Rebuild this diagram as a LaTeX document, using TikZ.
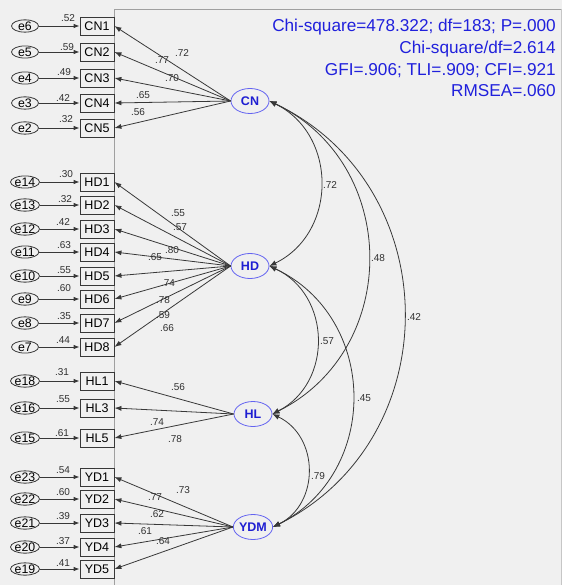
\documentclass[tikz,border=0pt]{standalone}
\usepackage{fontspec}
\setmainfont{Liberation Sans}
\usetikzlibrary{arrows.meta,shapes.geometric}
\definecolor{bg}{HTML}{F0F0F0}
\definecolor{framecol}{HTML}{A0A0A0}
\definecolor{ln}{HTML}{383838}
\definecolor{fitblue}{HTML}{2020DC}
\definecolor{latblue}{HTML}{6464F0}
\definecolor{lattext}{HTML}{1E1ED2}
\begin{document}
\begin{tikzpicture}[x=1pt,y=-1pt,
 obs/.style={draw=ln,fill=bg,line width=0.8pt,minimum width=34pt,minimum height=18pt,inner sep=0pt,font=\fontsize{12.5}{13}\selectfont},
 err/.style={ellipse,draw=ln,line width=0.8pt,minimum width=27pt,minimum height=12pt,inner sep=0pt,font=\fontsize{12.3}{12}\selectfont},
 lat/.style={ellipse,draw=latblue,fill=bg,line width=0.8pt,minimum width=38pt,minimum height=25pt,inner sep=0pt,text=lattext,font=\fontsize{12.5}{13}\selectfont\bfseries},
 coef/.style={font=\fontsize{10}{10}\selectfont,inner sep=0pt,text=ln!85!black},
 fitstat/.style={font=\fontsize{17.2}{17}\selectfont,text=fitblue,anchor=base east,inner sep=0pt},
 load/.style={draw=ln,line width=0.8pt,-{Latex[length=7pt,width=5pt]}},
 errarrow/.style={draw=ln,line width=0.8pt,-{Latex[length=6pt,width=4.5pt]}},
 cov/.style={draw=ln,line width=0.8pt,{Latex[length=7pt,width=5.5pt]}-{Latex[length=7pt,width=5.5pt]},bend left=64,looseness=1.18}
]
\fill[bg] (0,0) rectangle (562,585);
\useasboundingbox (0,0) rectangle (562,585);
% frame
\draw[framecol,line width=0.9pt] (114.5,585) -- (114.5,9) -- (562,9);
\draw[framecol!60,line width=0.6pt] (561.5,9) -- (561.5,585);
% fit statistics
\node[fitstat] at (556,31.5) {Chi-square=478.322; df=183; P=.000};
\node[fitstat] at (556,54) {Chi-square/df=2.614};
\node[fitstat] at (556,75.5) {GFI=.906; TLI=.909; CFI=.921};
\node[fitstat] at (556,96.5) {RMSEA=.060};
% latent variables
\node[lat] (CN) at (250,101) {CN};
\node[lat] (HD) at (250,266) {HD};
\node[lat] (HL) at (253,414) {HL};
\node[lat] (YDM) at (253,527) {YDM};
% indicators
\foreach \n/\y/\e/\vv/\rx/\ry/\l in {
 CN1/26/e6/.52/68/18/CN, CN2/52/e5/.59/67/47/CN, CN3/78/e4/.49/64/72/CN, CN4/103/e3/.42/63/98/CN, CN5/128/e2/.32/66/119/CN,
 HD1/182/e14/.30/66/174/HD, HD2/205/e13/.32/65/199/HD, HD3/229/e12/.42/63/222/HD, HD4/252/e11/.63/64/245/HD,
 HD5/276/e10/.55/64/270/HD, HD6/299/e9/.60/64/288/HD, HD7/323/e8/.35/64/316/HD, HD8/347/e7/.44/63/340/HD,
 HL1/381/e18/.31/62/372/HL, HL3/408/e16/.55/63/399/HL, HL5/438/e15/.61/62/433/HL,
 YD1/477/e23/.54/63/470/YDM, YD2/499/e22/.60/63/492/YDM, YD3/523/e21/.39/63/516/YDM, YD4/547/e20/.37/63/541/YDM, YD5/569/e19/.41/63/563/YDM}
{
 \node[obs] (\n) at (97,\y) {\n};
 \node[err] (\e) at (25,\y) {\e};
 \draw[errarrow] (\e) -- (\n);
 \node[coef] at (\rx,\ry) {\vv};
 \draw[load] (\l.west) -- (\n.east);
}
% loading labels
\foreach \vv/\x/\y in {
 .72/182/53, .77/162/60, .70/172/78, .65/143/95, .56/138/112,
 .55/178/213, .57/180/227, .80/172/250, .65/155/257, .74/168/283, .78/163/300, .59/163/315, .66/167/328,
 .56/178/387, .74/157/422, .78/175/439,
 .73/183/490, .77/155/497, .62/157/514, .61/145/531, .64/163/541}
{ \node[coef] at (\x,\y) {\vv}; }
% covariances
\draw[cov] (CN.east) to (HD.east);
\draw[cov] (CN.east) to (HL.east);
\draw[cov] (CN.east) to (YDM.east);
\draw[cov] (HD.east) to (HL.east);
\draw[cov] (HD.east) to (YDM.east);
\draw[cov] (HL.east) to (YDM.east);
\node[coef] at (330,185) {.72};
\node[coef] at (378,258) {.48};
\node[coef] at (414,317) {.42};
\node[coef] at (327,341) {.57};
\node[coef] at (364,398) {.45};
\node[coef] at (318,476) {.79};
\end{tikzpicture}
\end{document}
